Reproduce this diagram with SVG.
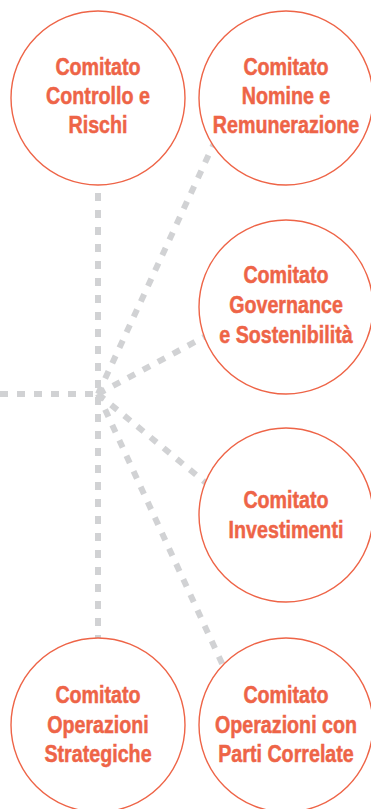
<svg xmlns="http://www.w3.org/2000/svg" width="371" height="809" viewBox="0 0 371 809">
<style>
.c{fill:#fff;stroke:#EE6447;stroke-width:1.4}
.t{fill:#EE6447;stroke:#EE6447;stroke-width:0.5;font-family:"Liberation Sans",Arial,sans-serif;font-weight:bold;font-size:24px;text-anchor:middle}
.l{stroke:#D1D2D4;stroke-width:6;stroke-dasharray:8 9;fill:none}
</style>
<rect width="371" height="809" fill="#fff"/>
<g id="connectors">
<line class="l" x1="0" y1="394" x2="98" y2="394"/>
<line class="l" x1="98" y1="193" x2="98" y2="640"/>
<line class="l" x1="98" y1="394" x2="216" y2="139"/>
<line class="l" x1="98" y1="394" x2="206" y2="336"/>
<line class="l" x1="98" y1="394" x2="206" y2="483"/>
<line class="l" x1="98" y1="394" x2="225" y2="670"/>
</g>
<g id="n1"><circle class="c" cx="98" cy="98" r="87"/>
<g transform="translate(98,0) scale(0.82,1)"><text class="t" x="0" y="75">Comitato</text><text class="t" x="0" y="104">Controllo e</text><text class="t" x="0" y="133">Rischi</text></g></g>
<g id="n2"><circle class="c" cx="286" cy="98" r="87"/>
<g transform="translate(286,0) scale(0.82,1)"><text class="t" x="0" y="75">Comitato</text><text class="t" x="0" y="104">Nomine e</text><text class="t" x="0" y="133">Remunerazione</text></g></g>
<g id="n3"><circle class="c" cx="286" cy="307" r="87"/>
<g transform="translate(286,0) scale(0.82,1)"><text class="t" x="0" y="283">Comitato</text><text class="t" x="0" y="313">Governance</text><text class="t" x="0" y="343">e Sostenibilità</text></g></g>
<g id="n4"><circle class="c" cx="286" cy="515" r="87"/>
<g transform="translate(286,0) scale(0.82,1)"><text class="t" x="0" y="508">Comitato</text><text class="t" x="0" y="538">Investimenti</text></g></g>
<g id="n5"><circle class="c" cx="98" cy="725" r="87"/>
<g transform="translate(98,0) scale(0.82,1)"><text class="t" x="0" y="703">Comitato</text><text class="t" x="0" y="733">Operazioni</text><text class="t" x="0" y="762">Strategiche</text></g></g>
<g id="n6"><circle class="c" cx="286" cy="725" r="87"/>
<g transform="translate(286,0) scale(0.82,1)"><text class="t" x="0" y="703">Comitato</text><text class="t" x="0" y="733">Operazioni con</text><text class="t" x="0" y="762">Parti Correlate</text></g></g>
</svg>
